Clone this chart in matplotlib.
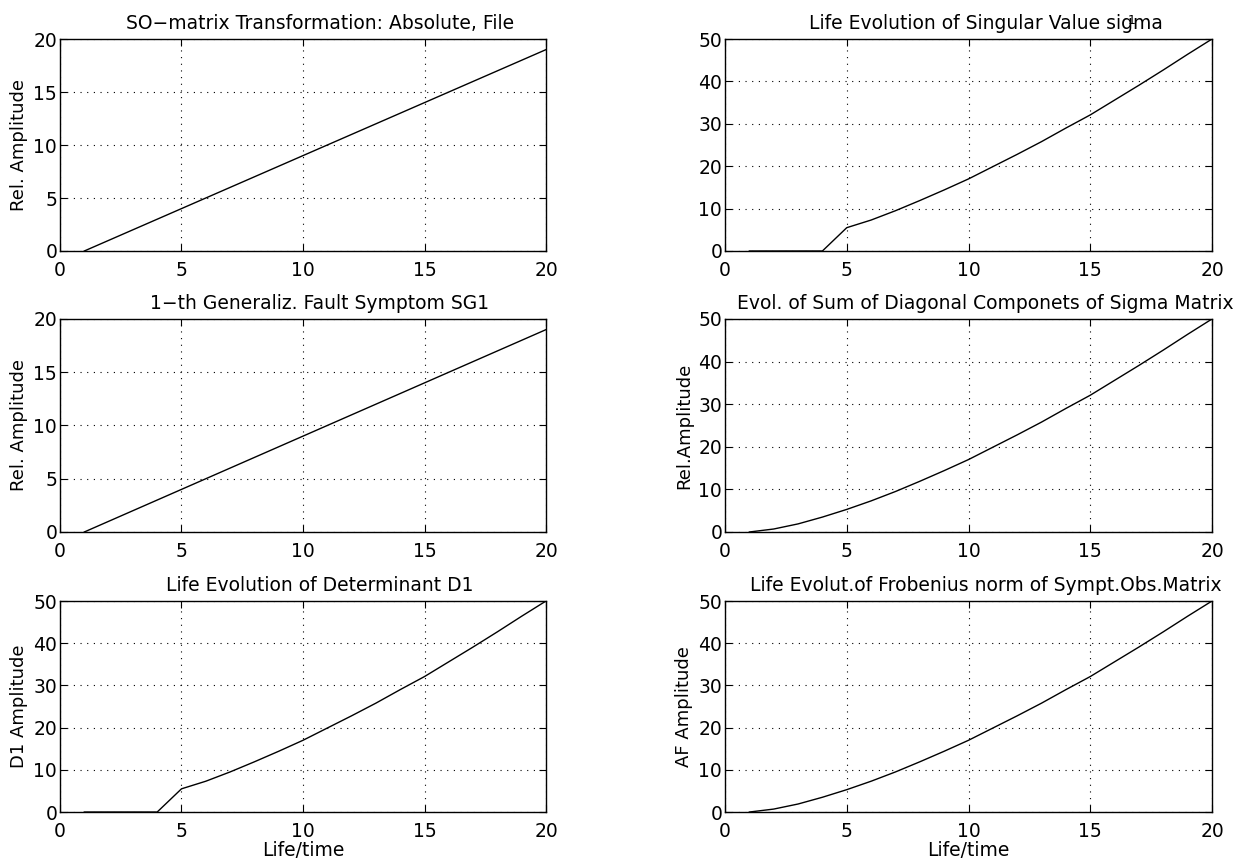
import matplotlib
matplotlib.use("Agg")
import matplotlib.pyplot as plt

# ── Data ──────────────────────────────────────────────────────────────────────
life = [1, 2, 3, 4, 5, 6, 7, 8, 9, 10, 11, 12, 13, 14, 15, 16, 17, 18, 19, 20]

so_abs = [0, 1, 2, 3, 4, 5, 6, 7, 8, 9, 10, 11, 12, 13, 14, 15, 16, 17, 18, 19]
sg1    = [0, 1, 2, 3, 4, 5, 6, 7, 8, 9, 10, 11, 12, 13, 14, 15, 16, 17, 18, 19]

sigma1 = [0, 0, 0, 0, 5.5, 7.3, 9.5, 11.9, 14.4, 17.0,
          19.9, 22.8, 25.8, 29.0, 32.1, 35.6, 39.1, 42.7, 46.4, 50.0]
trace_sigma = [0, 0.7, 1.9, 3.5, 5.3, 7.3, 9.5, 11.9, 14.4, 17.0,
               19.9, 22.8, 25.8, 29.0, 32.1, 35.6, 39.1, 42.7, 46.4, 50.0]
det_d1 = [0, 0, 0, 0, 5.5, 7.3, 9.5, 11.9, 14.4, 17.0,
          19.9, 22.8, 25.8, 29.0, 32.1, 35.6, 39.1, 42.7, 46.4, 50.0]
frob_af = [0, 0.7, 1.9, 3.5, 5.3, 7.3, 9.5, 11.9, 14.4, 17.0,
           19.9, 22.8, 25.8, 29.0, 32.1, 35.6, 39.1, 42.7, 46.4, 50.0]

titles = [
    "SO\u2212matrix Transformation: Absolute, File",
    "Life Evolution of Singular Value sigma",
    "1\u2212th Generaliz. Fault Symptom SG1",
    "Evol. of Sum of Diagonal Componets of Sigma Matrix",
    "Life Evolution of Determinant D1",
    "Life Evolut.of Frobenius norm of Sympt.Obs.Matrix",
]
ylabels = ["Rel. Amplitude", "", "Rel. Amplitude", "Rel.Amplitude", "D1 Amplitude", "AF Amplitude"]
xlabels = ["", "", "", "", "Life/time", "Life/time"]
series = [so_abs, sigma1, sg1, trace_sigma, det_d1, frob_af]
ymax = [20, 50, 20, 50, 50, 50]
ystep = [5, 10, 5, 10, 10, 10]

plt.rcParams["font.family"] = ["DejaVu Sans"]

fig = plt.figure(figsize=(12.37, 8.67), dpi=100)

# subplot boxes in figure fractions (left, bottom, width, height)
cols = [(0.0485, 0.3929), (0.5861, 0.3937)]
rows = [(0.7105, 0.2445), (0.3864, 0.2457), (0.0634, 0.2434)]

for i in range(6):
    r, c = divmod(i, 2)
    ax = fig.add_axes([cols[c][0], rows[r][0], cols[c][1], rows[r][1]])
    ax.plot(life, series[i], color="black", lw=1.0)
    ax.set_xlim(0, 20)
    ax.set_ylim(0, ymax[i])
    ax.set_xticks(range(0, 21, 5))
    ax.set_yticks(range(0, ymax[i] + 1, ystep[i]))
    ax.grid(True, color="black", ls=(0, (1, 5)), lw=0.8)
    ax.tick_params(direction="in", top=True, right=True, length=5,
                   labelsize=13.5)
    ax.tick_params(axis="x", pad=7)
    ax.tick_params(axis="y", pad=2)
    for s in ax.spines.values():
        s.set_linewidth(1.0)
    ax.set_title(titles[i], fontsize=13.5, x=0.535, pad=7)
    if ylabels[i]:
        ax.set_ylabel(ylabels[i], fontsize=13, labelpad=4)
    if xlabels[i]:
        ax.set_xlabel(xlabels[i], fontsize=13.5, labelpad=0)
    if i == 1:
        # subscript of sigma in the title
        ax.text(0.835, 1.085, "1", transform=ax.transAxes, fontsize=9,
                ha="center", va="center")

fig.savefig("out.png", dpi=100)
